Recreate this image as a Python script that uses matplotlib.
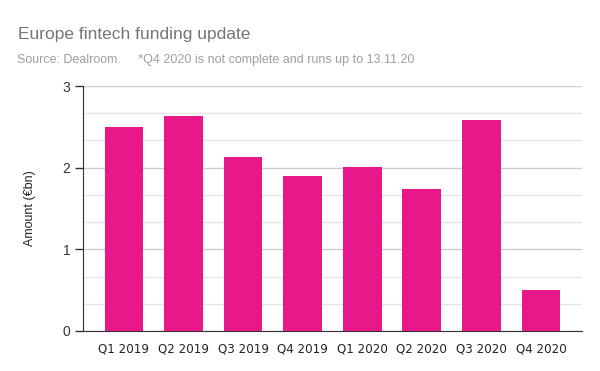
import numpy as np
import matplotlib.pyplot as plt
from matplotlib.ticker import MultipleLocator

quarters = ["Q1 2019", "Q2 2019", "Q3 2019", "Q4 2019",
            "Q1 2020", "Q2 2020", "Q3 2020", "Q4 2020"]
amount_bn = [2.50, 2.63, 2.13, 1.90, 2.01, 1.74, 2.59, 0.50]

bar_color = "#e8178a"

fig = plt.figure(figsize=(6, 3.71), dpi=100)
ax = fig.add_axes([0.138, 0.108, 0.832, 0.66])

x = np.arange(len(quarters))
ax.bar(x, amount_bn, width=0.65, color=bar_color, zorder=3)

ax.set_xlim(-0.69, 7.69)
ax.set_ylim(0, 3)
ax.yaxis.set_major_locator(MultipleLocator(1))
ax.yaxis.set_minor_locator(MultipleLocator(1 / 3))
ax.grid(axis="y", which="major", color="#cccccc", linewidth=1, zorder=0)
ax.grid(axis="y", which="minor", color="#e6e6e6", linewidth=1, zorder=0)
ax.set_axisbelow(True)

ax.set_xticks(x)
ax.set_xticklabels(quarters, fontsize=8.6, family="DejaVu Sans", color="#222222")
ax.tick_params(axis="x", length=0, pad=8)
ax.tick_params(axis="y", which="major", length=6, width=1, color="#333333",
               labelsize=10, labelcolor="#333333", pad=3)
ax.tick_params(axis="y", which="minor", length=0)
for lbl in ax.get_yticklabels():
    lbl.set_family("Liberation Sans")

for side in ["top", "right"]:
    ax.spines[side].set_visible(False)
ax.spines["left"].set_color("#333333")
ax.spines["bottom"].set_color("#333333")

ax.set_ylabel("Amount (€bn)", fontsize=9, family="Liberation Sans",
              color="#222222", labelpad=19)

fig.text(0.030, 0.895, "Europe fintech funding update", fontsize=12.5,
         family="Liberation Sans", color="#757575", va="baseline")
fig.text(0.028, 0.830, "Source: Dealroom.     *Q4 2020 is not complete and runs up to 13.11.20",
         fontsize=9, family="Liberation Sans", color="#9e9e9e", va="baseline")

fig.savefig("out.png", dpi=100)
